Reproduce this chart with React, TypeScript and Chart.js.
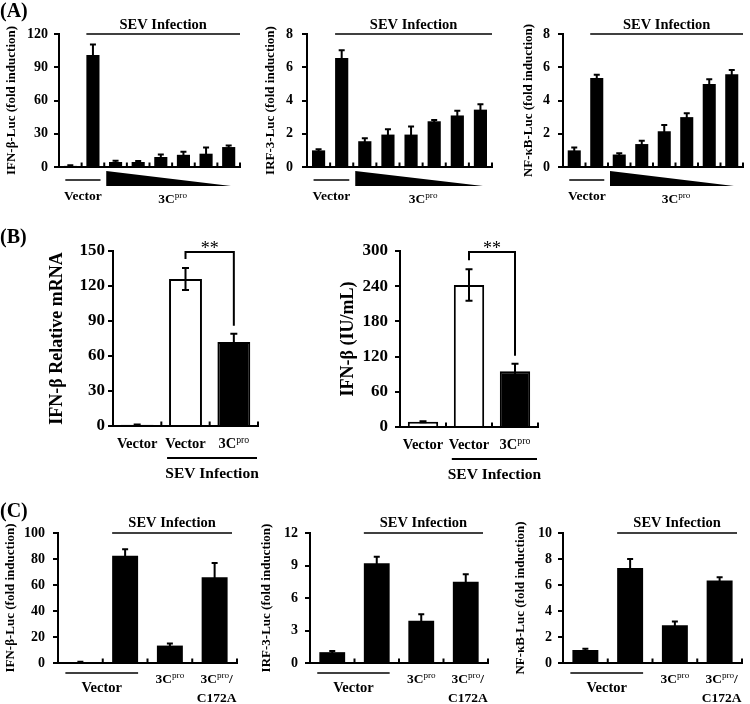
import React, { useEffect, useRef } from 'react';
import { Chart, registerables } from 'chart.js';
Chart.register(...registerables);

const SERIF = '"Liberation Serif", "Times New Roman", Times, serif';
Chart.defaults.font.family = SERIF;

// ---------------- Data ----------------
const sevLabel = 'SEV Infection';

// Panel A
const aCategories = ['Vector', 'Vector + SEV', '3Cpro dose 1', '3Cpro dose 2', '3Cpro dose 3', '3Cpro dose 4', '3Cpro dose 5', '3Cpro dose 6'];
const aGroupLabels = ['Vector', '3Cpro'];
const aIfnValues = [1, 101, 4.5, 4.5, 9, 11, 12, 18];
const aIfnErrors = [0.5, 9.5, 1.2, 1, 2.2, 2.8, 5.5, 1.5];
const aIfnTicks = [0, 30, 60, 90, 120];
const aIrfValues = [1.0, 6.55, 1.55, 1.95, 1.95, 2.75, 3.1, 3.45];
const aIrfErrors = [0.07, 0.48, 0.18, 0.32, 0.48, 0.08, 0.28, 0.33];
const aIrfTicks = [0, 2, 4, 6, 8];
const aNfkbValues = [1.0, 5.35, 0.75, 1.38, 2.15, 3.0, 5.0, 5.58];
const aNfkbErrors = [0.18, 0.2, 0.08, 0.2, 0.38, 0.24, 0.28, 0.26];
const aNfkbTicks = [0, 2, 4, 6, 8];

// Panel B
const bCategories = ['Vector', 'Vector', '3Cpro'];
const bMrnaValues = [1, 126, 72];
const bMrnaErrors = [0.3, 9.5, 7];
const bMrnaTicks = [0, 30, 60, 90, 120, 150];
const bProteinValues = [9, 242, 95];
const bProteinErrors = [1, 27, 13];
const bProteinTicks = [0, 60, 120, 180, 240, 300];
const bSignificance = '**';

// Panel C
const cCategories = ['Vector', 'Vector', '3Cpro', '3Cpro/C172A'];
const cIfnValues = [0.5, 82.5, 13.4, 66];
const cIfnErrors = [0.5, 5, 1.6, 11];
const cIfnTicks = [0, 20, 40, 60, 80, 100];
const cIrfValues = [1.0, 9.2, 3.9, 7.5];
const cIrfErrors = [0.1, 0.6, 0.6, 0.7];
const cIrfTicks = [0, 3, 6, 9, 12];
const cNfkbValues = [1.0, 7.3, 2.9, 6.35];
const cNfkbErrors = [0.1, 0.7, 0.3, 0.25];
const cNfkbTicks = [0, 2, 4, 6, 8, 10];

// ---------------- Drawing helpers ----------------
function hline(ctx: any, x0: number, x1: number, y: number, w: number) {
  ctx.save();
  ctx.strokeStyle = '#000';
  ctx.lineWidth = w;
  ctx.beginPath();
  ctx.moveTo(x0, y);
  ctx.lineTo(x1, y);
  ctx.stroke();
  ctx.restore();
}

function text(ctx: any, s: string, cx: number, y: number, size: number, weight = 'bold') {
  ctx.save();
  ctx.fillStyle = '#000';
  ctx.font = `${weight} ${size}px ${SERIF}`;
  ctx.textAlign = 'center';
  ctx.textBaseline = 'alphabetic';
  ctx.fillText(s, cx, y);
  ctx.restore();
}

// draws labels like "3Cpro" with "pro" as superscript
function drawLabel(ctx: any, s: string, cx: number, y: number, size: number) {
  if (!s.startsWith('3Cpro')) {
    text(ctx, s, cx, y, size);
    return;
  }
  const base = '3C';
  const sup = 'pro';
  const rest = s.slice(5);
  const supSize = size * 0.68;
  ctx.save();
  ctx.fillStyle = '#000';
  ctx.textBaseline = 'alphabetic';
  ctx.textAlign = 'left';
  ctx.font = `bold ${size}px ${SERIF}`;
  const w1 = ctx.measureText(base).width;
  const w3 = ctx.measureText(rest).width;
  ctx.font = `normal ${supSize}px ${SERIF}`;
  const w2 = ctx.measureText(sup).width;
  const x0 = cx - (w1 + w2 + w3) / 2;
  ctx.font = `bold ${size}px ${SERIF}`;
  ctx.fillText(base, x0, y);
  ctx.fillText(rest, x0 + w1 + w2, y);
  ctx.font = `normal ${supSize}px ${SERIF}`;
  ctx.fillText(sup, x0 + w1, y - size * 0.36);
  ctx.restore();
}

type Spec = {
  box: number[]; // canvas left, top, width, height
  area: number[]; // chart area left, top, right, bottom
  categories: string[];
  values: number[];
  errors: number[];
  ticks: number[];
  title: string;
  titleSize: number;
  titleX: number;
  tickSize: number;
  tickGap: number;
  barPct: number;
  fills: string[];
  bordered: boolean;
  cap: number;
  errWidth: number;
  kind: string;
};

function annotateA(ctx: any, chart: any, spec: Spec) {
  const area = chart.chartArea;
  const xs = chart.scales.x;
  const meta = chart.getDatasetMeta(0);
  const b1: any = meta.data[1];
  const bw = b1.width;
  const sx0 = b1.x - bw / 2;
  const sx1 = area.right;
  hline(ctx, sx0, sx1, area.top, 1.6);
  text(ctx, sevLabel, (sx0 + sx1) / 2, area.top - 5, 14.5);
  const vx0 = xs.getPixelForValue(0) - 5;
  const vx1 = b1.x + bw / 2 + 1;
  hline(ctx, vx0, vx1, area.bottom + 13, 1.6);
  text(ctx, aGroupLabels[0], (vx0 + vx1) / 2, area.bottom + 33, 13.5);
  const tl = (xs.getPixelForValue(1) + xs.getPixelForValue(2)) / 2 + 2;
  const tr = area.right - 9;
  ctx.save();
  ctx.fillStyle = '#000';
  ctx.beginPath();
  ctx.moveTo(tl, area.bottom + 4);
  ctx.lineTo(tl, area.bottom + 19);
  ctx.lineTo(tr, area.bottom + 19);
  ctx.closePath();
  ctx.fill();
  ctx.restore();
  drawLabel(ctx, aGroupLabels[1], (tl + tr) / 2 + 4, area.bottom + 36, 13.5);
}

function annotateB(ctx: any, chart: any, spec: Spec) {
  const area = chart.chartArea;
  const ys = chart.scales.y;
  const meta = chart.getDatasetMeta(0);
  spec.categories.forEach((lab, i) => {
    drawLabel(ctx, lab, (meta.data[i] as any).x, area.bottom + 22, 14.5);
  });
  const b1: any = meta.data[1];
  const b2: any = meta.data[2];
  const sx0 = b1.x - b1.width / 2 - 2;
  const sx1 = area.right - 1;
  hline(ctx, sx0, sx1, area.bottom + 32, 2);
  text(ctx, sevLabel, (sx0 + sx1) / 2, area.bottom + 52, 15.5);
  const yTop = area.top + 1;
  const ly = ys.getPixelForValue(spec.values[1] + spec.errors[1]) - 9;
  const ry = ys.getPixelForValue(spec.values[2] + spec.errors[2]) - 8;
  ctx.save();
  ctx.strokeStyle = '#000';
  ctx.lineWidth = 2;
  ctx.beginPath();
  ctx.moveTo(b1.x, ly);
  ctx.lineTo(b1.x, yTop);
  ctx.lineTo(b2.x, yTop);
  ctx.lineTo(b2.x, ry);
  ctx.stroke();
  ctx.restore();
  text(ctx, bSignificance, (b1.x + b2.x) / 2, yTop + 2, 18, 'normal');
}

function annotateC(ctx: any, chart: any, spec: Spec) {
  const area = chart.chartArea;
  const xs = chart.scales.x;
  const meta = chart.getDatasetMeta(0);
  const b1: any = meta.data[1];
  const sx0 = b1.x - b1.width / 2;
  const sx1 = area.right - 5;
  hline(ctx, sx0, sx1, area.top, 1.6);
  text(ctx, sevLabel, (sx0 + sx1) / 2, area.top - 6, 14.5);
  const vx0 = xs.getPixelForValue(0) - 15;
  const vx1 = b1.x + b1.width / 2;
  hline(ctx, vx0, vx1, area.bottom + 10, 1.6);
  text(ctx, spec.categories[0], (vx0 + vx1) / 2, area.bottom + 29, 14.5);
  drawLabel(ctx, spec.categories[2], (meta.data[2] as any).x, area.bottom + 20, 13.5);
  const parts = spec.categories[3].split('/');
  drawLabel(ctx, parts[0] + '/', (meta.data[3] as any).x + 2, area.bottom + 20, 13.5);
  text(ctx, parts[1], (meta.data[3] as any).x + 2, area.bottom + 39, 13.5);
}

function makePlugin(spec: Spec) {
  return {
    id: 'annot',
    afterDraw(chart: any) {
      const ctx = chart.ctx;
      const area = chart.chartArea;
      const xs = chart.scales.x;
      const ys = chart.scales.y;
      const n = spec.categories.length;
      ctx.save();
      ctx.strokeStyle = '#000';
      ctx.lineWidth = 2;
      for (let i = 1; i <= n; i++) {
        const bx = i < n ? (xs.getPixelForValue(i - 1) + xs.getPixelForValue(i)) / 2 : area.right;
        ctx.beginPath();
        ctx.moveTo(bx, area.bottom);
        ctx.lineTo(bx, area.bottom - 4.5);
        ctx.stroke();
      }
      const meta = chart.getDatasetMeta(0);
      ctx.lineWidth = spec.errWidth;
      meta.data.forEach((el: any, i: number) => {
        const v = spec.values[i];
        const e = spec.errors[i];
        const yt = ys.getPixelForValue(v + e);
        const yb = ys.getPixelForValue(Math.max(0, v - e));
        ctx.beginPath();
        ctx.moveTo(el.x, yb);
        ctx.lineTo(el.x, yt);
        ctx.moveTo(el.x - spec.cap, yt);
        ctx.lineTo(el.x + spec.cap, yt);
        if (spec.bordered) {
          ctx.moveTo(el.x - spec.cap, yb);
          ctx.lineTo(el.x + spec.cap, yb);
        }
        ctx.stroke();
      });
      ctx.restore();
      if (spec.kind === 'A') annotateA(ctx, chart, spec);
      else if (spec.kind === 'B') annotateB(ctx, chart, spec);
      else annotateC(ctx, chart, spec);
    },
  };
}

function ChartBox({ spec }: { spec: Spec }) {
  const ref = useRef<HTMLCanvasElement>(null);
  const [L, T, W, H] = spec.box;
  useEffect(() => {
    const [x0, y0, x1, y1] = spec.area;
    const lh = 1.2;
    const tmin = spec.ticks[0];
    const tmax = spec.ticks[spec.ticks.length - 1];
    const step = spec.ticks[1] - spec.ticks[0];
    const chart = new Chart(ref.current as HTMLCanvasElement, {
      type: 'bar',
      data: {
        labels: spec.categories,
        datasets: [
          {
            data: spec.values,
            backgroundColor: spec.fills,
            borderColor: '#000',
            borderWidth: spec.bordered ? 2 : 0,
            barPercentage: spec.barPct,
            categoryPercentage: 1,
          },
        ],
      },
      options: {
        responsive: false,
        maintainAspectRatio: false,
        animation: false,
        events: [],
        devicePixelRatio: 1,
        layout: { padding: { left: 0, top: y0 - T, right: L + W - x1, bottom: 0 } },
        plugins: {
          legend: { display: false },
          tooltip: { enabled: false },
        },
        scales: {
          x: {
            type: 'category',
            offset: true,
            grid: { display: false },
            ticks: { display: false },
            border: { display: true, color: '#000', width: 2 },
            afterFit: (s: any) => {
              s.height = T + H - y1;
            },
          },
          y: {
            min: tmin,
            max: tmax,
            ticks: {
              stepSize: step,
              color: '#000',
              font: { family: SERIF, size: spec.tickSize, weight: 'bold' },
              padding: spec.tickGap - 5,
            },
            grid: {
              display: true,
              drawOnChartArea: false,
              drawTicks: true,
              tickLength: 5,
              color: '#000',
              lineWidth: 2,
            },
            border: { display: true, color: '#000', width: 2 },
            title: {
              display: true,
              text: spec.title,
              color: '#000',
              font: { family: SERIF, size: spec.titleSize, weight: 'bold', lineHeight: lh },
              padding: { top: spec.titleX - L - (spec.titleSize * lh) / 2, bottom: 0 },
            },
            afterFit: (s: any) => {
              s.width = x0 - L;
            },
          },
        } as any,
      } as any,
      plugins: [makePlugin(spec) as any],
    });
    return () => chart.destroy();
  }, []);
  return (
    <canvas
      ref={ref}
      width={W}
      height={H}
      style={{ position: 'absolute', left: L, top: T, width: W, height: H, display: 'block' }}
    />
  );
}

const black8 = aCategories.map(() => '#000');
const black4 = cCategories.map(() => '#000');
const bFills = ['#fff', '#fff', '#000'];

const specs: Spec[] = [
  {
    box: [0, 14, 245, 196], area: [59, 34, 240, 167],
    categories: aCategories, values: aIfnValues, errors: aIfnErrors, ticks: aIfnTicks,
    title: 'IFN-β-Luc (fold induction)', titleSize: 13, titleX: 12,
    tickSize: 14, tickGap: 11, barPct: 0.58, fills: black8, bordered: false, cap: 3, errWidth: 2, kind: 'A',
  },
  {
    box: [245, 14, 250, 196], area: [307, 34, 492, 167],
    categories: aCategories, values: aIrfValues, errors: aIrfErrors, ticks: aIrfTicks,
    title: 'IRF-3-Luc (fold induction)', titleSize: 13, titleX: 271,
    tickSize: 14, tickGap: 14, barPct: 0.57, fills: black8, bordered: false, cap: 3, errWidth: 2, kind: 'A',
  },
  {
    box: [495, 14, 255, 196], area: [563, 34, 743, 167],
    categories: aCategories, values: aNfkbValues, errors: aNfkbErrors, ticks: aNfkbTicks,
    title: 'NF-κB-Luc (fold induction)', titleSize: 13, titleX: 529,
    tickSize: 14, tickGap: 13, barPct: 0.58, fills: black8, bordered: false, cap: 3, errWidth: 2, kind: 'A',
  },
  {
    box: [0, 228, 300, 260], area: [113, 251, 258, 426],
    categories: bCategories, values: bMrnaValues, errors: bMrnaErrors, ticks: bMrnaTicks,
    title: 'IFN-β Relative mRNA', titleSize: 18, titleX: 57,
    tickSize: 17, tickGap: 8, barPct: 0.68, fills: bFills, bordered: true, cap: 3.5, errWidth: 2, kind: 'B',
  },
  {
    box: [300, 228, 300, 260], area: [400, 251, 538, 427],
    categories: bCategories, values: bProteinValues, errors: bProteinErrors, ticks: bProteinTicks,
    title: 'IFN-β (IU/mL)', titleSize: 18, titleX: 348,
    tickSize: 17, tickGap: 12, barPct: 0.66, fills: bFills, bordered: true, cap: 3.5, errWidth: 2, kind: 'B',
  },
  {
    box: [0, 500, 245, 204], area: [58, 533, 237, 663],
    categories: cCategories, values: cIfnValues, errors: cIfnErrors, ticks: cIfnTicks,
    title: 'IFN-β-Luc (fold induction)', titleSize: 13, titleX: 11,
    tickSize: 14, tickGap: 13, barPct: 0.58, fills: black4, bordered: false, cap: 3, errWidth: 2, kind: 'C',
  },
  {
    box: [245, 500, 250, 204], area: [310, 533, 488, 663],
    categories: cCategories, values: cIrfValues, errors: cIrfErrors, ticks: cIrfTicks,
    title: 'IRF-3-Luc (fold induction)', titleSize: 13, titleX: 267,
    tickSize: 14, tickGap: 12, barPct: 0.58, fills: black4, bordered: false, cap: 3, errWidth: 2, kind: 'C',
  },
  {
    box: [495, 500, 255, 204], area: [563, 533, 742, 663],
    categories: cCategories, values: cNfkbValues, errors: cNfkbErrors, ticks: cNfkbTicks,
    title: 'NF-κB-Luc (fold induction)', titleSize: 13, titleX: 521,
    tickSize: 14, tickGap: 11, barPct: 0.58, fills: black4, bordered: false, cap: 3, errWidth: 2, kind: 'C',
  },
];

const panelLetters = [
  { label: '(A)', left: 0, top: 0 },
  { label: '(B)', left: 0, top: 226 },
  { label: '(C)', left: 0, top: 500 },
];

export default function App() {
  return (
    <div style={{ position: 'absolute', left: 0, top: 0, width: 750, height: 704, background: '#fff', overflow: 'hidden' }}>
      {specs.map((s, i) => (
        <ChartBox key={i} spec={s} />
      ))}
      {panelLetters.map((p) => (
        <div
          key={p.label}
          style={{
            position: 'absolute',
            left: p.left,
            top: p.top,
            font: `bold 20px ${SERIF}`,
            lineHeight: '20px',
            color: '#000',
            zIndex: 2,
          }}
        >
          {p.label}
        </div>
      ))}
    </div>
  );
}
